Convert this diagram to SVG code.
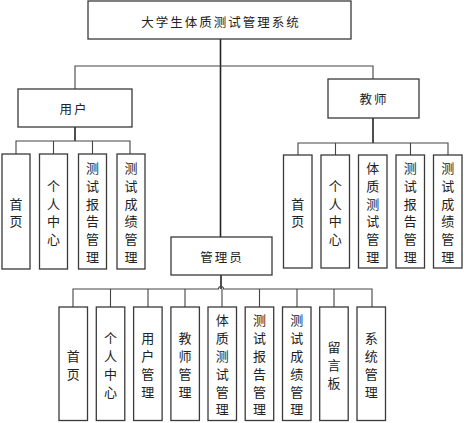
<svg xmlns="http://www.w3.org/2000/svg" width="464" height="423" viewBox="0 0 464 423">
<style>
.box{fill:#fff;stroke:#3a3a3a;stroke-width:1.3}
.ln{fill:none;stroke:#444;stroke-width:1.1}
.trunk{fill:none;stroke:#222;stroke-width:1.6}
text{font-family:"Noto Sans CJK SC","Noto Sans CJK JP",sans-serif;font-size:13px;fill:#222;text-anchor:middle;dominant-baseline:central}
.h{font-size:12.5px;letter-spacing:2px}
</style>
<g id="connectors">
<path class="trunk" d="M220.5,39 V237"/>
<path class="ln" d="M75,89 V66 H373 V79"/>
<path class="trunk" d="M75,127 V141"/>
<path class="ln" d="M16,154 V141 H130 V154 M53.5,141 V154 M92.5,141 V154"/>
<path class="trunk" d="M373,118 V143"/>
<path class="ln" d="M298,155 V143 H448 V155 M335.5,143 V155 M410.5,143 V155"/>
<path class="trunk" d="M221,275 V289"/>
<path class="ln" d="M73,307 V289 H218.5 A2.5,2.5 0 0 1 223.5,289 H372 V307 M110.5,289 V307 M148,289 V307 M185,289 V307 M222,289 V307 M259.5,289 V307 M297,289 V307 M334,289 V307"/>
</g>
<g id="root"><rect class="box" x="88" y="1" width="263" height="38"/><text class="h" x="221" y="21">大学生体质测试管理系统</text></g>
<g id="user"><rect class="box" x="18" y="89" width="114" height="38"/><text class="h" x="74" y="108">用户</text></g>
<g id="teacher"><rect class="box" x="328" y="79" width="91" height="39"/><text class="h" x="374" y="98.5">教师</text></g>
<g id="admin"><rect class="box" x="171" y="237" width="101" height="38"/><text class="h" x="222" y="256">管理员</text></g>

<g id="u1"><rect class="box" x="2" y="154" width="28" height="115"/><text x="16"><tspan x="16" y="202.6">首</tspan><tspan x="16" y="220.4">页</tspan></text></g>
<g id="u2"><rect class="box" x="39.5" y="154" width="28" height="115"/><text><tspan x="53.5" y="184.8">个</tspan><tspan x="53.5" y="202.6">人</tspan><tspan x="53.5" y="220.4">中</tspan><tspan x="53.5" y="238.2">心</tspan></text></g>
<g id="u3"><rect class="box" x="78.5" y="154" width="28" height="115"/><text><tspan x="92.5" y="167">测</tspan><tspan x="92.5" y="184.8">试</tspan><tspan x="92.5" y="202.6">报</tspan><tspan x="92.5" y="220.4">告</tspan><tspan x="92.5" y="238.2">管</tspan><tspan x="92.5" y="256">理</tspan></text></g>
<g id="u4"><rect class="box" x="117" y="154" width="28" height="115"/><text><tspan x="131" y="167">测</tspan><tspan x="131" y="184.8">试</tspan><tspan x="131" y="202.6">成</tspan><tspan x="131" y="220.4">绩</tspan><tspan x="131" y="238.2">管</tspan><tspan x="131" y="256">理</tspan></text></g>

<g id="t1"><rect class="box" x="283.5" y="155" width="28.5" height="113"/><text><tspan x="297.7" y="202.6">首</tspan><tspan x="297.7" y="220.4">页</tspan></text></g>
<g id="t2"><rect class="box" x="321" y="155" width="28.5" height="113"/><text><tspan x="335.2" y="184.8">个</tspan><tspan x="335.2" y="202.6">人</tspan><tspan x="335.2" y="220.4">中</tspan><tspan x="335.2" y="238.2">心</tspan></text></g>
<g id="t3"><rect class="box" x="358.5" y="155" width="28.5" height="113"/><text><tspan x="372.7" y="167">体</tspan><tspan x="372.7" y="184.8">质</tspan><tspan x="372.7" y="202.6">测</tspan><tspan x="372.7" y="220.4">试</tspan><tspan x="372.7" y="238.2">管</tspan><tspan x="372.7" y="256">理</tspan></text></g>
<g id="t4"><rect class="box" x="396" y="155" width="28.5" height="113"/><text><tspan x="410.2" y="167">测</tspan><tspan x="410.2" y="184.8">试</tspan><tspan x="410.2" y="202.6">报</tspan><tspan x="410.2" y="220.4">告</tspan><tspan x="410.2" y="238.2">管</tspan><tspan x="410.2" y="256">理</tspan></text></g>
<g id="t5"><rect class="box" x="433.5" y="155" width="28.5" height="113"/><text><tspan x="447.7" y="167">测</tspan><tspan x="447.7" y="184.8">试</tspan><tspan x="447.7" y="202.6">成</tspan><tspan x="447.7" y="220.4">绩</tspan><tspan x="447.7" y="238.2">管</tspan><tspan x="447.7" y="256">理</tspan></text></g>

<g id="a1"><rect class="box" x="59" y="307" width="28.5" height="113.5"/><text><tspan x="73.2" y="355">首</tspan><tspan x="73.2" y="372.8">页</tspan></text></g>
<g id="a2"><rect class="box" x="96.3" y="307" width="28.5" height="113.5"/><text><tspan x="110.5" y="337.2">个</tspan><tspan x="110.5" y="355">人</tspan><tspan x="110.5" y="372.8">中</tspan><tspan x="110.5" y="390.6">心</tspan></text></g>
<g id="a3"><rect class="box" x="133.6" y="307" width="28.5" height="113.5"/><text><tspan x="147.8" y="337.2">用</tspan><tspan x="147.8" y="355">户</tspan><tspan x="147.8" y="372.8">管</tspan><tspan x="147.8" y="390.6">理</tspan></text></g>
<g id="a4"><rect class="box" x="170.9" y="307" width="28.5" height="113.5"/><text><tspan x="185.1" y="337.2">教</tspan><tspan x="185.1" y="355">师</tspan><tspan x="185.1" y="372.8">管</tspan><tspan x="185.1" y="390.6">理</tspan></text></g>
<g id="a5"><rect class="box" x="208" y="307" width="28.5" height="113.5"/><text><tspan x="222.2" y="319.4">体</tspan><tspan x="222.2" y="337.2">质</tspan><tspan x="222.2" y="355">测</tspan><tspan x="222.2" y="372.8">试</tspan><tspan x="222.2" y="390.6">管</tspan><tspan x="222.2" y="408.4">理</tspan></text></g>
<g id="a6"><rect class="box" x="245.2" y="307" width="28.5" height="113.5"/><text><tspan x="259.4" y="319.4">测</tspan><tspan x="259.4" y="337.2">试</tspan><tspan x="259.4" y="355">报</tspan><tspan x="259.4" y="372.8">告</tspan><tspan x="259.4" y="390.6">管</tspan><tspan x="259.4" y="408.4">理</tspan></text></g>
<g id="a7"><rect class="box" x="282.5" y="307" width="28.5" height="113.5"/><text><tspan x="296.7" y="319.4">测</tspan><tspan x="296.7" y="337.2">试</tspan><tspan x="296.7" y="355">成</tspan><tspan x="296.7" y="372.8">绩</tspan><tspan x="296.7" y="390.6">管</tspan><tspan x="296.7" y="408.4">理</tspan></text></g>
<g id="a8"><rect class="box" x="319.7" y="307" width="28.5" height="113.5"/><text><tspan x="333.9" y="346.1">留</tspan><tspan x="333.9" y="363.9">言</tspan><tspan x="333.9" y="381.7">板</tspan></text></g>
<g id="a9"><rect class="box" x="357" y="307" width="28.5" height="113.5"/><text><tspan x="371.2" y="337.2">系</tspan><tspan x="371.2" y="355">统</tspan><tspan x="371.2" y="372.8">管</tspan><tspan x="371.2" y="390.6">理</tspan></text></g>
</svg>
